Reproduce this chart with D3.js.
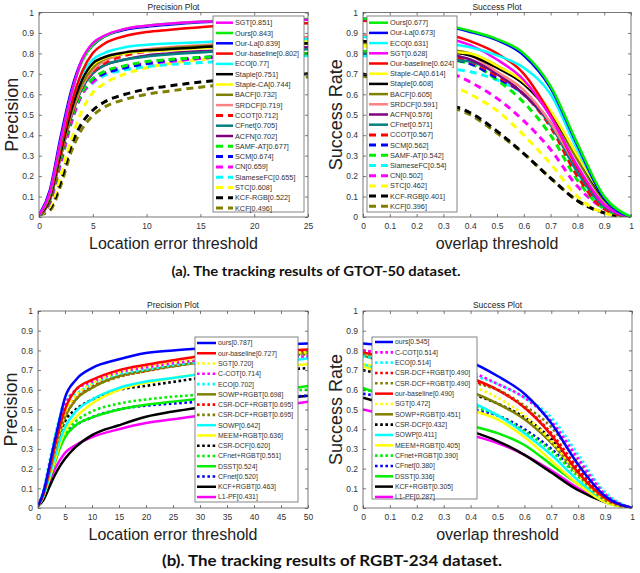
<!DOCTYPE html>
<html>
<head>
<meta charset="utf-8">
<script src="https://cdn.jsdelivr.net/npm/d3@7"></script>
<style>
  body { margin: 0; background: #fff; }
  svg { display: block; }
  text { font-family: "Liberation Sans", Arial, sans-serif; }
</style>
</head>
<body>
<svg id="fig" width="640" height="573"></svg>
<script>
// ---------- data: GTOT-50 precision ----------
var gtotPrecX = [0, 1, 2, 3, 4, 5, 6, 8, 10, 12, 15, 20, 25];
var gtotPrecNames = ["SGT", "Ours", "Our-La", "Our-baseline", "ECO", "Staple", "Staple-CA", "BACF", "SRDCF",
    "CCOT", "CFnet", "ACFN", "SAMF-AT", "SCM", "CN", "SiameseFC", "STC", "KCF-RGB", "KCF"];
var gtotPrecScores = [0.851, 0.843, 0.839, 0.802, 0.77, 0.751, 0.744, 0.732, 0.719, 0.712, 0.705, 0.702,
    0.677, 0.674, 0.659, 0.655, 0.608, 0.522, 0.496];
var gtotPrecY = [
    [0.01, 0.12, 0.37, 0.60, 0.77, 0.851, 0.885, 0.92, 0.935, 0.945, 0.955, 0.96, 0.965],
    [0.01, 0.11, 0.36, 0.60, 0.76, 0.843, 0.88, 0.92, 0.935, 0.945, 0.955, 0.962, 0.968],
    [0.01, 0.13, 0.39, 0.62, 0.77, 0.839, 0.88, 0.915, 0.93, 0.94, 0.952, 0.96, 0.965],
    [0.01, 0.10, 0.33, 0.55, 0.71, 0.802, 0.845, 0.885, 0.905, 0.915, 0.928, 0.94, 0.948],
    [0.01, 0.11, 0.35, 0.56, 0.70, 0.77, 0.80, 0.83, 0.842, 0.848, 0.855, 0.865, 0.87],
    [0.01, 0.09, 0.31, 0.52, 0.67, 0.751, 0.78, 0.805, 0.815, 0.82, 0.83, 0.84, 0.85],
    [0.01, 0.09, 0.31, 0.52, 0.67, 0.744, 0.775, 0.80, 0.81, 0.815, 0.825, 0.84, 0.86],
    [0.01, 0.09, 0.30, 0.51, 0.65, 0.732, 0.77, 0.80, 0.815, 0.825, 0.835, 0.845, 0.85],
    [0.01, 0.09, 0.30, 0.50, 0.64, 0.719, 0.76, 0.80, 0.82, 0.83, 0.84, 0.855, 0.88],
    [0.01, 0.09, 0.30, 0.50, 0.64, 0.712, 0.75, 0.79, 0.81, 0.82, 0.83, 0.84, 0.85],
    [0.01, 0.09, 0.30, 0.50, 0.63, 0.705, 0.74, 0.77, 0.785, 0.795, 0.805, 0.815, 0.82],
    [0.01, 0.08, 0.29, 0.49, 0.63, 0.702, 0.74, 0.77, 0.79, 0.80, 0.81, 0.82, 0.83],
    [0.01, 0.08, 0.28, 0.48, 0.61, 0.677, 0.71, 0.74, 0.76, 0.77, 0.78, 0.79, 0.80],
    [0.01, 0.08, 0.28, 0.48, 0.61, 0.674, 0.70, 0.73, 0.75, 0.765, 0.78, 0.79, 0.80],
    [0.01, 0.07, 0.26, 0.46, 0.60, 0.659, 0.70, 0.735, 0.75, 0.76, 0.775, 0.79, 0.80],
    [0.01, 0.07, 0.26, 0.46, 0.60, 0.655, 0.69, 0.72, 0.735, 0.745, 0.755, 0.77, 0.79],
    [0.01, 0.05, 0.20, 0.38, 0.52, 0.608, 0.65, 0.70, 0.73, 0.75, 0.77, 0.79, 0.81],
    [0.01, 0.04, 0.17, 0.35, 0.46, 0.522, 0.56, 0.60, 0.625, 0.64, 0.66, 0.68, 0.70],
    [0.01, 0.03, 0.15, 0.32, 0.43, 0.496, 0.535, 0.575, 0.60, 0.615, 0.635, 0.66, 0.685]
];

// ---------- data: GTOT-50 success ----------
var overlapX = [0, 0.1, 0.2, 0.3, 0.4, 0.5, 0.6, 0.7, 0.8, 0.9, 1];
var gtotSuccNames = ["Ours", "Our-La", "ECO", "SGT", "Our-baseline", "Staple-CA", "Staple", "BACF", "SRDCF",
    "ACFN", "CFnet", "CCOT", "SCM", "SAMF-AT", "SiameseFC", "CN", "STC", "KCF-RGB", "KCF"];
var gtotSuccScores = [0.677, 0.673, 0.631, 0.628, 0.624, 0.614, 0.608, 0.605, 0.591, 0.576, 0.571, 0.567,
    0.562, 0.542, 0.54, 0.502, 0.462, 0.401, 0.396];
var gtotSuccY = [
    [0.97, 0.965, 0.955, 0.94, 0.91, 0.87, 0.80, 0.64, 0.36, 0.10, 0],
    [0.97, 0.96, 0.95, 0.935, 0.905, 0.865, 0.79, 0.63, 0.35, 0.09, 0],
    [0.88, 0.87, 0.86, 0.85, 0.83, 0.79, 0.73, 0.60, 0.33, 0.10, 0],
    [0.97, 0.95, 0.92, 0.88, 0.84, 0.77, 0.67, 0.49, 0.25, 0.06, 0],
    [0.96, 0.95, 0.93, 0.90, 0.86, 0.80, 0.70, 0.50, 0.24, 0.06, 0],
    [0.84, 0.83, 0.82, 0.81, 0.80, 0.74, 0.66, 0.52, 0.30, 0.10, 0],
    [0.86, 0.85, 0.83, 0.81, 0.79, 0.73, 0.65, 0.51, 0.30, 0.09, 0],
    [0.85, 0.84, 0.83, 0.82, 0.80, 0.74, 0.65, 0.50, 0.28, 0.08, 0],
    [0.89, 0.87, 0.85, 0.82, 0.79, 0.71, 0.62, 0.46, 0.24, 0.06, 0],
    [0.86, 0.84, 0.82, 0.80, 0.77, 0.70, 0.60, 0.46, 0.24, 0.06, 0],
    [0.80, 0.79, 0.78, 0.77, 0.76, 0.70, 0.60, 0.45, 0.22, 0.05, 0],
    [0.86, 0.84, 0.82, 0.79, 0.76, 0.69, 0.60, 0.44, 0.20, 0.04, 0],
    [0.86, 0.83, 0.80, 0.78, 0.75, 0.68, 0.60, 0.45, 0.22, 0.05, 0],
    [0.81, 0.80, 0.79, 0.77, 0.75, 0.67, 0.56, 0.40, 0.18, 0.04, 0],
    [0.79, 0.77, 0.75, 0.73, 0.71, 0.67, 0.60, 0.46, 0.22, 0.05, 0],
    [0.86, 0.82, 0.77, 0.72, 0.66, 0.58, 0.47, 0.33, 0.15, 0.04, 0],
    [0.84, 0.78, 0.72, 0.66, 0.60, 0.52, 0.40, 0.26, 0.10, 0.02, 0],
    [0.70, 0.66, 0.61, 0.56, 0.51, 0.42, 0.31, 0.19, 0.08, 0.02, 0],
    [0.69, 0.65, 0.60, 0.55, 0.50, 0.41, 0.31, 0.19, 0.08, 0.02, 0]
];

// ---------- data: RGBT-234 precision ----------
var rgbtPrecX = [0, 1, 2, 3, 4, 5, 7, 10, 15, 20, 25, 30, 40, 50];
var rgbtPrecKeys = ["ours", "our-baseline", "SGT", "C-COT", "ECO", "SOWP+RGBT", "CSR-DCF+RGBT", "CSR-DCF+RGBT ",
    "SOWP", "MEEM+RGBT", "CSR-DCF", "CFnet+RGBT", "DSST", "CFnet", "KCF+RGBT", "L1-PF"];
var rgbtPrecScores = [0.787, 0.727, 0.720, 0.714, 0.702, 0.698, 0.695, 0.695, 0.642, 0.636, 0.620, 0.551,
    0.524, 0.520, 0.463, 0.431];
var rgbtPrecY = [
    [0.01, 0.08, 0.20, 0.33, 0.45, 0.56, 0.65, 0.71, 0.755, 0.787, 0.80, 0.81, 0.825, 0.835],
    [0.01, 0.07, 0.18, 0.30, 0.41, 0.50, 0.60, 0.65, 0.70, 0.727, 0.75, 0.77, 0.79, 0.805],
    [0.01, 0.07, 0.18, 0.29, 0.39, 0.48, 0.57, 0.63, 0.69, 0.72, 0.74, 0.76, 0.78, 0.79],
    [0.01, 0.08, 0.20, 0.32, 0.43, 0.52, 0.60, 0.64, 0.69, 0.714, 0.735, 0.75, 0.76, 0.77],
    [0.01, 0.09, 0.22, 0.35, 0.46, 0.55, 0.58, 0.63, 0.68, 0.702, 0.725, 0.74, 0.755, 0.77],
    [0.01, 0.07, 0.17, 0.28, 0.38, 0.46, 0.55, 0.61, 0.67, 0.698, 0.72, 0.74, 0.77, 0.785],
    [0.01, 0.07, 0.18, 0.29, 0.39, 0.47, 0.56, 0.62, 0.67, 0.695, 0.72, 0.74, 0.77, 0.80],
    [0.01, 0.07, 0.17, 0.28, 0.38, 0.46, 0.55, 0.61, 0.665, 0.695, 0.72, 0.74, 0.765, 0.78],
    [0.01, 0.06, 0.15, 0.25, 0.34, 0.41, 0.49, 0.55, 0.61, 0.642, 0.66, 0.68, 0.72, 0.76],
    [0.01, 0.06, 0.14, 0.23, 0.32, 0.39, 0.46, 0.53, 0.60, 0.636, 0.66, 0.68, 0.71, 0.73],
    [0.01, 0.08, 0.18, 0.28, 0.37, 0.44, 0.50, 0.55, 0.60, 0.62, 0.64, 0.66, 0.69, 0.71],
    [0.01, 0.06, 0.15, 0.24, 0.32, 0.38, 0.44, 0.49, 0.53, 0.551, 0.565, 0.575, 0.59, 0.60],
    [0.01, 0.06, 0.14, 0.22, 0.30, 0.36, 0.42, 0.46, 0.50, 0.524, 0.54, 0.555, 0.58, 0.62],
    [0.01, 0.07, 0.16, 0.24, 0.31, 0.37, 0.42, 0.46, 0.50, 0.52, 0.53, 0.54, 0.555, 0.57],
    [0.01, 0.04, 0.10, 0.16, 0.21, 0.25, 0.31, 0.37, 0.42, 0.463, 0.49, 0.51, 0.54, 0.57],
    [0.01, 0.05, 0.12, 0.19, 0.24, 0.28, 0.32, 0.36, 0.40, 0.431, 0.45, 0.47, 0.50, 0.54]
];

// ---------- data: RGBT-234 success ----------
var rgbtSuccKeys = ["ours", "C-COT", "ECO", "CSR-DCF+RGBT", "CSR-DCF+RGBT ", "our-baseline", "SGT", "SOWP+RGBT",
    "CSR-DCF", "SOWP", "MEEM+RGBT", "CFnet+RGBT", "CFnet", "DSST", "KCF+RGBT", "L1-PF"];
var rgbtSuccScores = [0.545, 0.514, 0.514, 0.490, 0.490, 0.490, 0.472, 0.451, 0.432, 0.411, 0.405, 0.390,
    0.380, 0.336, 0.305, 0.287];
var rgbtSuccY = [
    [0.835, 0.82, 0.80, 0.77, 0.74, 0.67, 0.58, 0.43, 0.22, 0.06, 0],
    [0.80, 0.78, 0.75, 0.72, 0.69, 0.63, 0.56, 0.44, 0.25, 0.07, 0],
    [0.77, 0.75, 0.73, 0.70, 0.675, 0.63, 0.56, 0.46, 0.27, 0.08, 0],
    [0.80, 0.77, 0.74, 0.70, 0.65, 0.60, 0.51, 0.38, 0.20, 0.06, 0],
    [0.78, 0.75, 0.72, 0.68, 0.64, 0.60, 0.52, 0.41, 0.23, 0.07, 0],
    [0.79, 0.76, 0.73, 0.70, 0.66, 0.60, 0.51, 0.37, 0.18, 0.05, 0],
    [0.73, 0.71, 0.68, 0.65, 0.62, 0.56, 0.47, 0.34, 0.17, 0.04, 0],
    [0.775, 0.73, 0.68, 0.63, 0.59, 0.53, 0.45, 0.33, 0.17, 0.04, 0],
    [0.70, 0.67, 0.64, 0.61, 0.58, 0.53, 0.46, 0.35, 0.19, 0.05, 0],
    [0.73, 0.69, 0.64, 0.59, 0.54, 0.47, 0.38, 0.27, 0.14, 0.04, 0],
    [0.72, 0.67, 0.62, 0.56, 0.50, 0.45, 0.36, 0.24, 0.12, 0.03, 0],
    [0.60, 0.58, 0.56, 0.54, 0.52, 0.47, 0.39, 0.29, 0.16, 0.04, 0],
    [0.58, 0.56, 0.54, 0.52, 0.50, 0.47, 0.40, 0.30, 0.17, 0.05, 0],
    [0.61, 0.56, 0.51, 0.47, 0.42, 0.38, 0.32, 0.22, 0.12, 0.03, 0],
    [0.56, 0.52, 0.47, 0.43, 0.39, 0.34, 0.27, 0.18, 0.09, 0.03, 0],
    [0.50, 0.47, 0.44, 0.40, 0.37, 0.33, 0.27, 0.19, 0.10, 0.03, 0]
];

// tick values
var rateTicks = [0, 0.1, 0.2, 0.3, 0.4, 0.5, 0.6, 0.7, 0.8, 0.9, 1];
var gtotErrTicks = [0, 5, 10, 15, 20, 25];
var rgbtErrTicks = [0, 5, 10, 15, 20, 25, 30, 35, 40, 45, 50];

// ---------- line styles (colour, dash type) ----------
var G = "#00ee00", Y = "#ffff00";
var gtotStyle = {
    "SGT": ["#ff00ff", "solid"], "Ours": [G, "solid"], "Our-La": ["#0000ff", "solid"],
    "Our-baseline": ["#ff0000", "solid"], "ECO": ["#00ffff", "solid"], "Staple": ["#000000", "solid"],
    "Staple-CA": [Y, "solid"], "BACF": ["#808000", "solid"], "SRDCF": ["#ff8080", "solid"],
    "CCOT": ["#ff0000", "dash"], "CFnet": ["#008080", "solid"], "ACFN": ["#800080", "solid"],
    "SAMF-AT": [G, "dash"], "SCM": ["#0000ff", "dash"], "CN": ["#ff00ff", "dash"],
    "SiameseFC": ["#00ffff", "dash"], "STC": [Y, "dash"], "KCF-RGB": ["#000000", "dash"], "KCF": ["#808000", "dash"]
};
var rgbtStyle = {
    "ours": ["#0000ff", "solid"], "our-baseline": ["#ff0000", "solid"], "SGT": [Y, "dot"],
    "C-COT": ["#ff00ff", "dot"], "ECO": ["#00ffff", "dot"], "SOWP+RGBT": ["#808000", "solid"],
    "CSR-DCF+RGBT": ["#ff0000", "dot"], "CSR-DCF+RGBT ": ["#808000", "dot"], "SOWP": ["#00ffff", "solid"],
    "MEEM+RGBT": [Y, "solid"], "CSR-DCF": ["#000000", "dot"], "CFnet+RGBT": [G, "dot"],
    "DSST": [G, "solid"], "CFnet": ["#0000ff", "dot"], "KCF+RGBT": ["#000000", "solid"], "L1-PF": ["#ff00ff", "solid"]
};

var svg = d3.select("#fig");

function applyStyle(sel, st) {
    sel.attr("fill", "none").attr("stroke", st[0]);
    if (st[1] === "dash") {
        sel.attr("stroke-width", 3).attr("stroke-dasharray", "7,5");
    } else if (st[1] === "dot") {
        sel.attr("stroke-width", 2.6).attr("stroke-dasharray", "2.6,2.6");
    } else {
        sel.attr("stroke-width", 2.5);
    }
}

function drawPanel(p) {
    var g = svg.append("g");
    var x = d3.scaleLinear().domain(p.xDomain).range([p.left, p.right]);
    var y = d3.scaleLinear().domain([0, 1]).range([p.bottom, p.top]);

    g.append("clipPath").attr("id", "clip" + p.id)
        .append("rect")
        .attr("x", p.left).attr("y", p.top)
        .attr("width", p.right - p.left).attr("height", p.bottom - p.top);

    var line = d3.line()
        .x(function (d, i) { return x(p.xs[i]); })
        .y(function (d) { return y(d); })
        .curve(d3.curveMonotoneX);

    // last legend entries first, so the leaders end up on top
    var order = d3.range(p.keys.length).reverse();
    g.append("g").attr("clip-path", "url(#clip" + p.id + ")")
        .selectAll("path").data(order).join("path")
        .attr("d", function (i) { return line(p.ys[i]); })
        .each(function (i) { applyStyle(d3.select(this), p.style[p.keys[i]]); });

    // axes, ticks pointing inward like matlab
    var fmt = d3.format("~g");
    var ax = [
        g.append("g").attr("transform", "translate(0," + p.bottom + ")")
            .call(d3.axisBottom(x).tickValues(p.xTicks).tickSize(-3).tickSizeOuter(0).tickPadding(6).tickFormat(fmt)),
        g.append("g").attr("transform", "translate(" + p.left + ",0)")
            .call(d3.axisLeft(y).tickValues(rateTicks).tickSize(-3).tickSizeOuter(0).tickPadding(5).tickFormat(fmt)),
        g.append("g").attr("transform", "translate(0," + p.top + ")")
            .call(d3.axisTop(x).tickValues(p.xTicks).tickSize(-3).tickSizeOuter(0).tickFormat("")),
        g.append("g").attr("transform", "translate(" + p.right + ",0)")
            .call(d3.axisRight(y).tickValues(rateTicks).tickSize(-3).tickSizeOuter(0).tickFormat(""))
    ];
    ax.forEach(function (a) {
        a.select(".domain").remove();
        a.selectAll(".tick line").attr("stroke", "#555").attr("stroke-width", 0.8);
        a.selectAll(".tick text").attr("fill", "#333").style("font-size", "8.5px")
            .style("font-family", "'Liberation Sans', Arial, sans-serif");
    });

    g.append("rect")
        .attr("x", p.left).attr("y", p.top)
        .attr("width", p.right - p.left).attr("height", p.bottom - p.top)
        .attr("fill", "none").attr("stroke", "#555").attr("stroke-width", 0.8);

    // labels
    g.append("text").attr("x", (p.left + p.right) / 2).attr("y", p.top - 3)
        .attr("text-anchor", "middle").attr("fill", "#222").style("font-size", "8.5px").text(p.title);
    g.append("text").attr("x", (p.left + p.right) / 2).attr("y", p.bottom + 32)
        .attr("text-anchor", "middle").attr("fill", "#222").style("font-size", "16px").text(p.xLabel);
    g.append("text")
        .attr("transform", "translate(" + (p.left - 21) + "," + ((p.top + p.bottom) / 2) + ") rotate(-90)")
        .attr("text-anchor", "middle").attr("fill", "#222").style("font-size", "18px").text(p.yLabel);

    // legend
    var L = p.legend;
    var lg = g.append("g");
    lg.append("rect")
        .attr("x", L.x0).attr("y", L.y0)
        .attr("width", L.x1 - L.x0).attr("height", L.y1 - L.y0)
        .attr("fill", "#fff").attr("stroke", "#666").attr("stroke-width", 0.8);
    var rows = lg.selectAll("g.row").data(p.keys).join("g").attr("class", "row")
        .attr("transform", function (d, i) { return "translate(0," + (L.row0 + i * L.step) + ")"; });
    rows.append("line")
        .attr("x1", L.lineX0).attr("x2", L.lineX1).attr("y1", 0).attr("y2", 0)
        .each(function (k) { applyStyle(d3.select(this), p.style[k]); });
    rows.append("text")
        .attr("x", L.lineX1 + 2).attr("dy", "0.35em")
        .attr("fill", "#333").style("font-size", L.font + "px")
        .text(function (k, i) { return k.trim() + "[" + p.scoreFmt(p.scores[i]) + "]"; });
}

drawPanel({
    id: "a1", xs: gtotPrecX, ys: gtotPrecY, keys: gtotPrecNames, scores: gtotPrecScores, style: gtotStyle,
    scoreFmt: String, xDomain: [0, 25], xTicks: gtotErrTicks,
    left: 39, right: 308, top: 12.5, bottom: 217,
    title: "Precision Plot", xLabel: "Location error threshold", yLabel: "Precision",
    legend: { x0: 213, x1: 304, y0: 16, y1: 212, row0: 22.7, step: 10.3, lineX0: 216, lineX1: 233, font: 7.3 }
});
drawPanel({
    id: "a2", xs: overlapX, ys: gtotSuccY, keys: gtotSuccNames, scores: gtotSuccScores, style: gtotStyle,
    scoreFmt: String, xDomain: [0, 1], xTicks: rateTicks,
    left: 363, right: 631, top: 12.5, bottom: 217,
    title: "Success Plot", xLabel: "overlap threshold", yLabel: "Success Rate",
    legend: { x0: 367, x1: 457, y0: 16, y1: 212, row0: 22.7, step: 10.2, lineX0: 369, lineX1: 388, font: 7.3 }
});
drawPanel({
    id: "b1", xs: rgbtPrecX, ys: rgbtPrecY, keys: rgbtPrecKeys, scores: rgbtPrecScores, style: rgbtStyle,
    scoreFmt: function (v) { return v.toFixed(3); }, xDomain: [0, 50], xTicks: rgbtErrTicks,
    left: 38, right: 308, top: 311, bottom: 508,
    title: "Precision Plot", xLabel: "Location error threshold", yLabel: "Precision",
    legend: { x0: 195, x1: 298, y0: 337, y1: 502, row0: 343, step: 10.27, lineX0: 197, lineX1: 216, font: 6.9 }
});
drawPanel({
    id: "b2", xs: overlapX, ys: rgbtSuccY, keys: rgbtSuccKeys, scores: rgbtSuccScores, style: rgbtStyle,
    scoreFmt: function (v) { return v.toFixed(3); }, xDomain: [0, 1], xTicks: rateTicks,
    left: 363, right: 632, top: 311, bottom: 508,
    title: "Success Plot", xLabel: "overlap threshold", yLabel: "Success Rate",
    legend: { x0: 372, x1: 477, y0: 337, y1: 499, row0: 342, step: 10.33, lineX0: 375, lineX1: 393, font: 6.9 }
});

// captions
svg.append("text").attr("x", 316).attr("y", 276).attr("text-anchor", "middle")
    .attr("textLength", 289).attr("lengthAdjust", "spacingAndGlyphs")
    .style("font-family", "Lato, 'Open Sans', sans-serif").style("font-weight", "bold").style("font-size", "14px")
    .attr("fill", "#111").text("(a). The tracking results of GTOT-50 dataset.");
svg.append("text").attr("x", 332).attr("y", 566).attr("text-anchor", "middle")
    .attr("textLength", 340).attr("lengthAdjust", "spacingAndGlyphs")
    .style("font-family", "Lato, 'Open Sans', sans-serif").style("font-weight", "bold").style("font-size", "15px")
    .attr("fill", "#111").text("(b). The tracking results of RGBT-234 dataset.");
</script>
</body>
</html>
